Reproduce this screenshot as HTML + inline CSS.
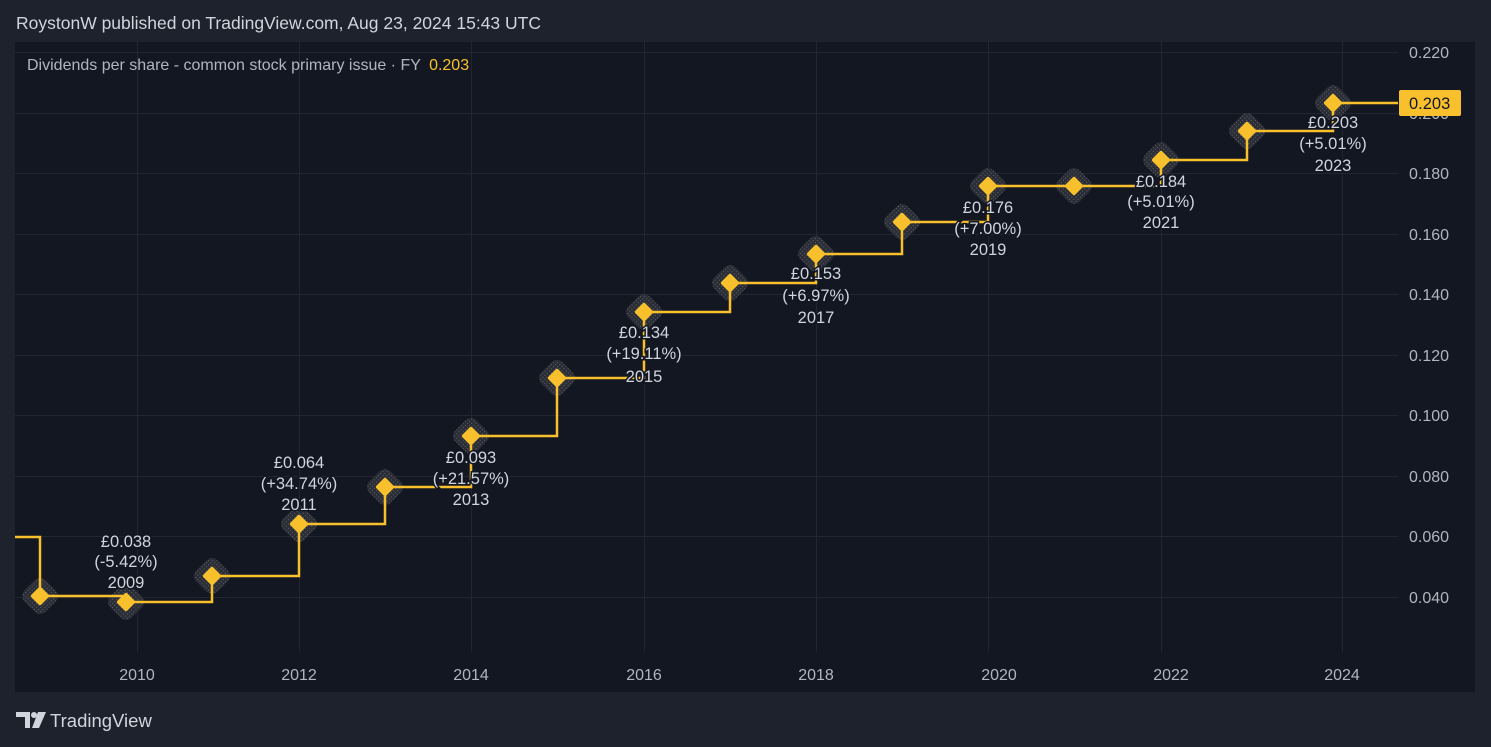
<!DOCTYPE html>
<html><head><meta charset="utf-8"><style>
html,body{margin:0;padding:0;background:#1e222d;width:1491px;height:747px;overflow:hidden;font-family:"Liberation Sans","DejaVu Sans",sans-serif}
</style></head><body>
<svg width="1491" height="747" xmlns="http://www.w3.org/2000/svg" font-family="Liberation Sans, DejaVu Sans, sans-serif">
<defs>
<pattern id="hp" width="3" height="3" patternUnits="userSpaceOnUse"><rect width="3" height="3" fill="#2a2d35"/><rect width="1" height="1" fill="#63656c"/></pattern>
</defs>
<rect width="1491" height="747" fill="#1e222d"/>
<text x="16" y="29" fill="#d1d4dc" font-size="17.5">RoystonW published on TradingView.com, Aug 23, 2024 15:43 UTC</text>
<rect x="15" y="42" width="1460" height="650" fill="#131722"/>
<g stroke="#232632" stroke-width="1">
<line x1="15" y1="52.5" x2="1398" y2="52.5"/><line x1="15" y1="113.5" x2="1398" y2="113.5"/><line x1="15" y1="173.5" x2="1398" y2="173.5"/><line x1="15" y1="234.5" x2="1398" y2="234.5"/><line x1="15" y1="294.5" x2="1398" y2="294.5"/><line x1="15" y1="355.5" x2="1398" y2="355.5"/><line x1="15" y1="415.5" x2="1398" y2="415.5"/><line x1="15" y1="476.5" x2="1398" y2="476.5"/><line x1="15" y1="536.5" x2="1398" y2="536.5"/><line x1="15" y1="597.5" x2="1398" y2="597.5"/>
<line x1="137.5" y1="42" x2="137.5" y2="652"/><line x1="299.5" y1="42" x2="299.5" y2="652"/><line x1="471.5" y1="42" x2="471.5" y2="652"/><line x1="644.5" y1="42" x2="644.5" y2="652"/><line x1="816.5" y1="42" x2="816.5" y2="652"/><line x1="988.5" y1="42" x2="988.5" y2="652"/><line x1="1161.5" y1="42" x2="1161.5" y2="652"/><line x1="1342.5" y1="42" x2="1342.5" y2="652"/>
</g>
<g fill="#b2b5be" font-size="16" text-anchor="middle">
<text x="137" y="680">2010</text><text x="299" y="680">2012</text><text x="471" y="680">2014</text><text x="644" y="680">2016</text><text x="816" y="680">2018</text><text x="999" y="680">2020</text><text x="1171" y="680">2022</text><text x="1342" y="680">2024</text>
</g>
<g fill="#b2b5be" font-size="16">
<text x="1409" y="58">0.220</text><text x="1409" y="119">0.200</text><text x="1409" y="179">0.180</text><text x="1409" y="240">0.160</text><text x="1409" y="300">0.140</text><text x="1409" y="361">0.120</text><text x="1409" y="421">0.100</text><text x="1409" y="482">0.080</text><text x="1409" y="542">0.060</text><text x="1409" y="603">0.040</text>
</g>
<text x="27" y="70" fill="#b2b5be" font-size="16">Dividends per share - common stock primary issue · FY <tspan fill="#f7c02c" dx="4">0.203</tspan></text>
<g fill="url(#hp)">
<rect x="25" y="581" width="30" height="30" rx="8" transform="rotate(45 40 596)"/>
<rect x="111" y="587" width="30" height="30" rx="8" transform="rotate(45 126 602)"/>
<rect x="197" y="561" width="30" height="30" rx="8" transform="rotate(45 212 576)"/>
<rect x="284" y="509" width="30" height="30" rx="8" transform="rotate(45 299 524)"/>
<rect x="370" y="472" width="30" height="30" rx="8" transform="rotate(45 385 487)"/>
<rect x="456" y="421" width="30" height="30" rx="8" transform="rotate(45 471 436)"/>
<rect x="542" y="363" width="30" height="30" rx="8" transform="rotate(45 557 378)"/>
<rect x="629" y="297" width="30" height="30" rx="8" transform="rotate(45 644 312)"/>
<rect x="715" y="268" width="30" height="30" rx="8" transform="rotate(45 730 283)"/>
<rect x="801" y="239" width="30" height="30" rx="8" transform="rotate(45 816 254)"/>
<rect x="887" y="207" width="30" height="30" rx="8" transform="rotate(45 902 222)"/>
<rect x="973" y="171" width="30" height="30" rx="8" transform="rotate(45 988 186)"/>
<rect x="1059" y="171" width="30" height="30" rx="8" transform="rotate(45 1074 186)"/>
<rect x="1146" y="145" width="30" height="30" rx="8" transform="rotate(45 1161 160)"/>
<rect x="1232" y="116" width="30" height="30" rx="8" transform="rotate(45 1247 131)"/>
<rect x="1318" y="88" width="30" height="30" rx="8" transform="rotate(45 1333 103)"/>
</g>
<path d="M15 537 H40 V596 H126 V602 H212 V576 H299 V524 H385 V487 H471 V436 H557 V378 H644 V312 H730 V283 H816 V254 H902 V222 H988 V186 H1074 V186 H1161 V160 H1247 V131 H1333 V103 H1398" fill="none" stroke="#f7c02c" stroke-width="2.5"/>
<g fill="#f7c02c">
<rect x="33" y="589" width="14" height="14" rx="2" transform="rotate(45 40 596)"/>
<rect x="119" y="595" width="14" height="14" rx="2" transform="rotate(45 126 602)"/>
<rect x="205" y="569" width="14" height="14" rx="2" transform="rotate(45 212 576)"/>
<rect x="292" y="517" width="14" height="14" rx="2" transform="rotate(45 299 524)"/>
<rect x="378" y="480" width="14" height="14" rx="2" transform="rotate(45 385 487)"/>
<rect x="464" y="429" width="14" height="14" rx="2" transform="rotate(45 471 436)"/>
<rect x="550" y="371" width="14" height="14" rx="2" transform="rotate(45 557 378)"/>
<rect x="637" y="305" width="14" height="14" rx="2" transform="rotate(45 644 312)"/>
<rect x="723" y="276" width="14" height="14" rx="2" transform="rotate(45 730 283)"/>
<rect x="809" y="247" width="14" height="14" rx="2" transform="rotate(45 816 254)"/>
<rect x="895" y="215" width="14" height="14" rx="2" transform="rotate(45 902 222)"/>
<rect x="981" y="179" width="14" height="14" rx="2" transform="rotate(45 988 186)"/>
<rect x="1067" y="179" width="14" height="14" rx="2" transform="rotate(45 1074 186)"/>
<rect x="1154" y="153" width="14" height="14" rx="2" transform="rotate(45 1161 160)"/>
<rect x="1240" y="124" width="14" height="14" rx="2" transform="rotate(45 1247 131)"/>
<rect x="1326" y="96" width="14" height="14" rx="2" transform="rotate(45 1333 103)"/>
</g>
<g fill="#d1d4dc" font-size="16.5" text-anchor="middle" stroke="#131722" stroke-width="3" paint-order="stroke">
<text x="126" y="547">£0.038</text><text x="126" y="567">(-5.42%)</text><text x="126" y="588">2009</text>
<text x="299" y="468">£0.064</text><text x="299" y="489">(+34.74%)</text><text x="299" y="510">2011</text>
<text x="471" y="463">£0.093</text><text x="471" y="484">(+21.57%)</text><text x="471" y="505">2013</text>
<text x="644" y="338">£0.134</text><text x="644" y="359">(+19.11%)</text><text x="644" y="382">2015</text>
<text x="816" y="279">£0.153</text><text x="816" y="301">(+6.97%)</text><text x="816" y="323">2017</text>
<text x="988" y="213">£0.176</text><text x="988" y="234">(+7.00%)</text><text x="988" y="255">2019</text>
<text x="1161" y="187">£0.184</text><text x="1161" y="207">(+5.01%)</text><text x="1161" y="228">2021</text>
<text x="1333" y="128">£0.203</text><text x="1333" y="149">(+5.01%)</text><text x="1333" y="171">2023</text>
</g>
<rect x="1399" y="90" width="62" height="26" rx="2" fill="#f7c02c"/>
<text x="1409" y="109" fill="#131722" font-size="16.5">0.203</text>
<g fill="#d1d4dc">
<path d="M16 712 H30 V728 H25 V717 H16 Z"/><circle cx="34" cy="715" r="3"/><path d="M38 712 H46 L39 728 H32 Z"/>
</g>
<text x="50" y="727" fill="#d1d4dc" font-size="18.5">TradingView</text>
</svg>
</body></html>
